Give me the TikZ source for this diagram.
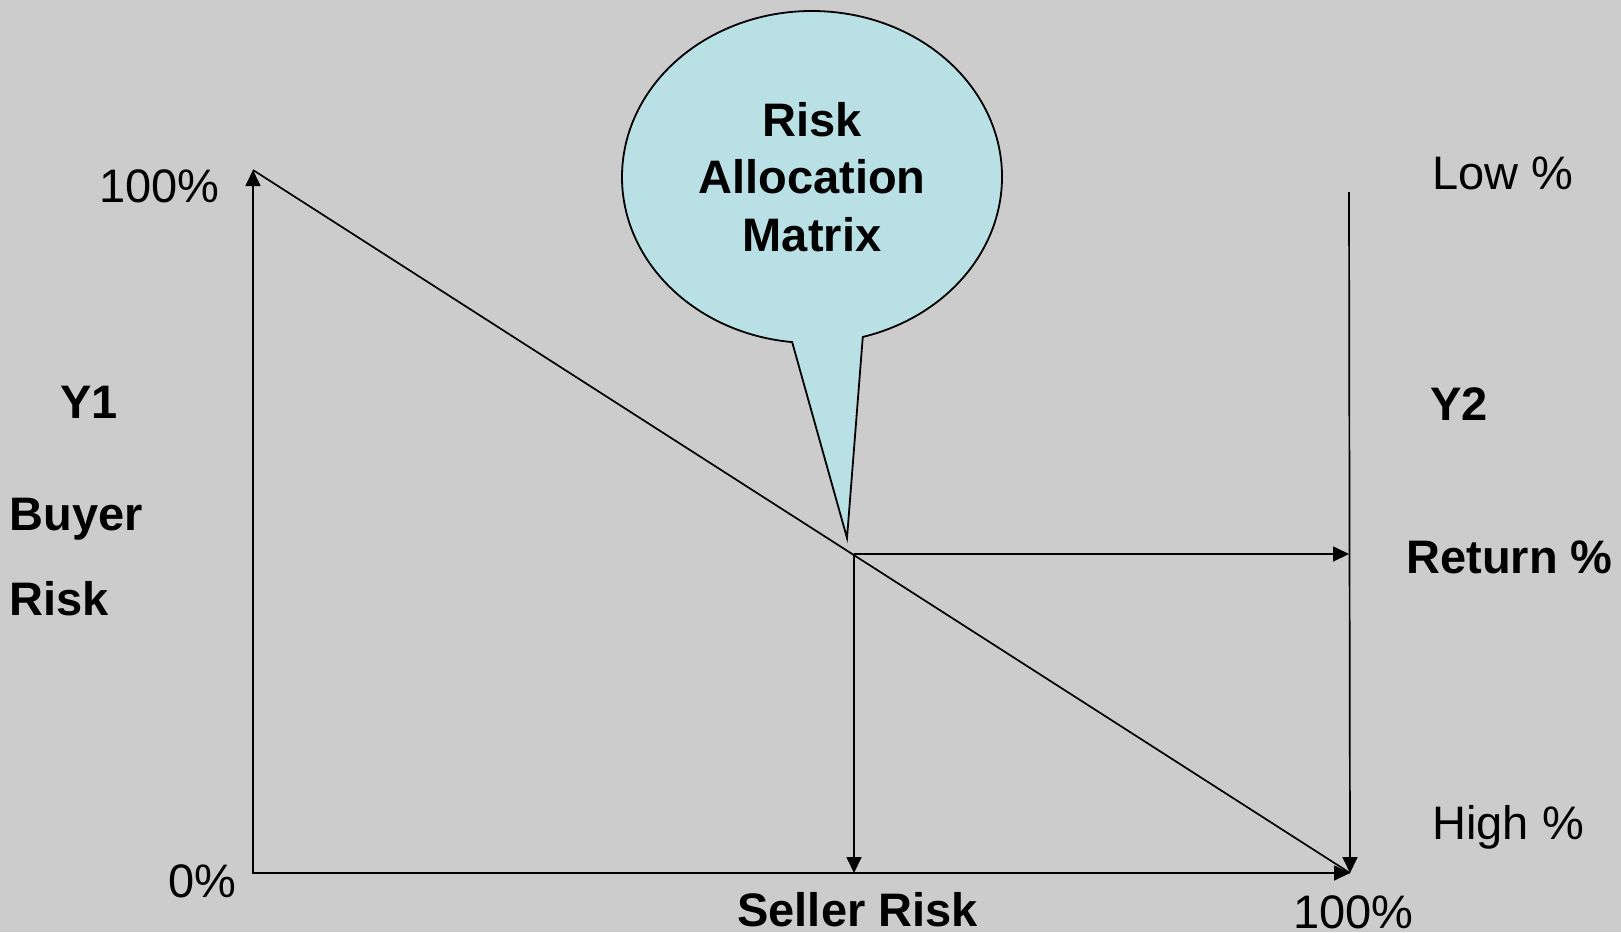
\documentclass[tikz,border=0pt]{standalone}
\usepackage{fontspec}
\setmainfont{Liberation Sans}
\usetikzlibrary{positioning,arrows.meta}
\definecolor{bggray}{RGB}{204,204,204}
\definecolor{bubblecyan}{RGB}{185,224,228}
\tikzstyle{lbl}=[inner sep=0pt, font=\fontsize{23.5}{28.75}\selectfont]
\tikzstyle{blbl}=[inner sep=0pt, font=\fontsize{23.5}{28.75}\selectfont\bfseries]
\tikzstyle{ax}=[line width=0.85pt]
\tikzstyle{callout}=[draw, fill=bubblecyan, line width=0.9pt]

\begin{document}
\begin{tikzpicture}[x=0.5pt,y=-0.5pt,>={Triangle[length=8pt,width=7.5pt]}]
\fill[bggray] (0,0) rectangle (1621,932);
\useasboundingbox (0,0) rectangle (1621,932);

% corners of the matrix
\coordinate (ytop) at (253,170);
\coordinate (origin) at (253,873);
\coordinate (xend) at (1350,873);
\coordinate (rtop) at (1349,192);
\coordinate (meet) at (854,554);
\coordinate (rmeet) at (1349,554);
\coordinate (xmeet) at (854,873);

\draw[ax,<->] (ytop) -- (origin) -- (xend);
\draw[ax] (ytop) -- (xend);
\draw[ax,->] (rtop) -- (xend);
\draw[ax,->] (meet) -- (rmeet);
\draw[ax,->] (meet) -- (xmeet);

% speech bubble
\coordinate (bubble) at (812,177);
\coordinate (tip) at (847,538);
\draw[callout] ([shift={(96:190 and 166)}]bubble) arc[start angle=96, end angle=434.5, x radius=190, y radius=166] -- (tip) -- cycle;
\node[blbl, align=center] (rammat) at (bubble) {Risk\\Allocation\\Matrix};

% left side
\node[lbl, anchor=base east] (ytoplbl) at (220,202) {100\%};
\node[lbl, anchor=base east] (originlbl) at (237,897) {0\%};
\node[blbl, anchor=base west] (yone) at (60,418) {Y1};
\node[blbl, anchor=base west] (buyer) at (9,530) {Buyer};
\node[blbl, anchor=base west] (brisk) at (9,615) {Risk};

% right side
\node[lbl, anchor=base west] (low) at (1432,189) {Low \%};
\node[blbl, anchor=base west] (ytwo) at (1430,420) {Y2};
\node[blbl, anchor=base west] (ret) at (1406,573) {Return \%};
\node[lbl, anchor=base west] (high) at (1432,839) {High \%};

% bottom
\node[lbl, anchor=base west] (xendlbl) at (1293,928) {100\%};
\node[blbl, anchor=base west] (seller) at (737,926) {Seller Risk};
\end{tikzpicture}
\end{document}
